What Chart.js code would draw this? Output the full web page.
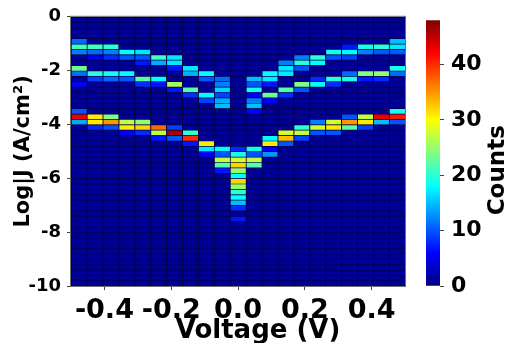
<!DOCTYPE html>
<html>
<head>
<meta charset="utf-8">
<script src="https://cdn.jsdelivr.net/npm/chart.js@4.4.1/dist/chart.umd.min.js"></script>
<style>
  html, body { margin: 0; padding: 0; background: #fff; }
  #wrap { position: relative; width: 510px; height: 343px; overflow: hidden; }
  #heat { position: absolute; left: 0; top: 0; }
  #bar { position: absolute; left: 415px; top: 0; }
</style>
</head>
<body>
<div id="wrap">
  <canvas id="heat" width="420" height="343"></canvas>
  <canvas id="bar" width="95" height="343"></canvas>
</div>
<script>
// histogram bins: 21 voltage columns over -0.5..0.5 V, 50 rows of 0.2 decade
const voltageBins = [-0.4762, -0.4286, -0.3810, -0.3333, -0.2857, -0.2381, -0.1905, -0.1429, -0.0952, -0.0476, 0,
                     0.0476, 0.0952, 0.1429, 0.1905, 0.2381, 0.2857, 0.3333, 0.3810, 0.4286, 0.4762];
const logJBins = [-9.9, -9.7, -9.5, -9.3, -9.1, -8.9, -8.7, -8.5, -8.3, -8.1, -7.9, -7.7, -7.5, -7.3, -7.1,
                  -6.9, -6.7, -6.5, -6.3, -6.1, -5.9, -5.7, -5.5, -5.3, -5.1, -4.9, -4.7, -4.5, -4.3, -4.1,
                  -3.9, -3.7, -3.5, -3.3, -3.1, -2.9, -2.7, -2.5, -2.3, -2.1, -1.9, -1.7, -1.5, -1.3, -1.1,
                  -0.9, -0.7, -0.5, -0.3, -0.1];
const rowHalf = 0.1;
const baseCount = 1;
const countMax = 48;
const voltageTicks = [-0.4, -0.2, 0, 0.2, 0.4];
const logJTicks = [-10, -8, -6, -4, -2, 0];
const countTicks = [0, 10, 20, 30, 40];

// [voltage, log|J| row, counts] for every bin above the floor
const peakCells = [
  [-0.4762, -0.9, 11], [-0.4762, -1.1, 21], [-0.4762, -1.3, 12], [-0.4762, -1.9, 23], [-0.4762, -2.1, 11],
  [-0.4762, -2.5, 6], [-0.4762, -3.5, 10], [-0.4762, -3.7, 43], [-0.4762, -3.9, 14],
  [-0.4286, -1.1, 21], [-0.4286, -1.3, 11], [-0.4286, -1.5, 5], [-0.4286, -2.1, 20], [-0.4286, -2.3, 9],
  [-0.4286, -3.7, 31], [-0.4286, -3.9, 31], [-0.4286, -4.1, 8],
  [-0.3810, -1.1, 20], [-0.3810, -1.3, 12], [-0.3810, -1.5, 8], [-0.3810, -2.1, 19], [-0.3810, -2.3, 11],
  [-0.3810, -3.7, 24], [-0.3810, -3.9, 35], [-0.3810, -4.1, 10],
  [-0.3333, -1.3, 18], [-0.3333, -1.5, 10], [-0.3333, -2.1, 18], [-0.3333, -2.3, 10], [-0.3333, -3.9, 27],
  [-0.3333, -4.1, 31], [-0.3333, -4.3, 6],
  [-0.2857, -1.3, 17], [-0.2857, -1.5, 10], [-0.2857, -1.7, 7], [-0.2857, -2.3, 22], [-0.2857, -2.5, 8],
  [-0.2857, -3.9, 25], [-0.2857, -4.1, 32], [-0.2857, -4.3, 8],
  [-0.2381, -1.5, 21], [-0.2381, -1.7, 14], [-0.2381, -2.3, 18], [-0.2381, -2.5, 7], [-0.2381, -4.1, 37],
  [-0.2381, -4.3, 27], [-0.2381, -4.5, 7],
  [-0.1905, -1.5, 17], [-0.1905, -1.7, 17], [-0.1905, -1.9, 7], [-0.1905, -2.5, 26], [-0.1905, -2.7, 7],
  [-0.1905, -4.1, 9], [-0.1905, -4.3, 46], [-0.1905, -4.5, 10],
  [-0.1429, -1.9, 17], [-0.1429, -2.1, 14], [-0.1429, -2.7, 22], [-0.1429, -2.9, 8], [-0.1429, -4.3, 20],
  [-0.1429, -4.5, 40], [-0.1429, -4.7, 7],
  [-0.0952, -2.1, 18], [-0.0952, -2.3, 10], [-0.0952, -2.9, 18], [-0.0952, -3.1, 9], [-0.0952, -4.7, 31],
  [-0.0952, -4.9, 17], [-0.0952, -5.1, 6],
  [-0.0476, -2.3, 11], [-0.0476, -2.5, 12], [-0.0476, -2.7, 16], [-0.0476, -2.9, 9], [-0.0476, -3.1, 14],
  [-0.0476, -3.3, 15], [-0.0476, -4.9, 18], [-0.0476, -5.1, 10], [-0.0476, -5.3, 27], [-0.0476, -5.5, 22],
  [-0.0476, -5.7, 7],
  [0, -4.9, 8], [0, -5.1, 19], [0, -5.3, 28], [0, -5.5, 32], [0, -5.7, 25], [0, -5.9, 18], [0, -6.1, 32],
  [0, -6.3, 25], [0, -6.5, 20], [0, -6.7, 18], [0, -6.9, 15], [0, -7.1, 8], [0, -7.5, 7],
  [0.0476, -2.3, 15], [0.0476, -2.5, 10], [0.0476, -2.7, 19], [0.0476, -2.9, 6], [0.0476, -3.1, 12],
  [0.0476, -3.3, 15], [0.0476, -3.5, 6], [0.0476, -4.9, 19], [0.0476, -5.1, 10], [0.0476, -5.3, 27],
  [0.0476, -5.5, 22],
  [0.0952, -2.1, 18], [0.0952, -2.3, 17], [0.0952, -2.5, 7], [0.0952, -2.9, 23], [0.0952, -3.1, 6],
  [0.0952, -4.5, 18], [0.0952, -4.7, 31], [0.0952, -4.9, 6], [0.0952, -5.1, 13],
  [0.1429, -1.7, 12], [0.1429, -1.9, 17], [0.1429, -2.1, 17], [0.1429, -2.7, 22], [0.1429, -2.9, 8],
  [0.1429, -4.3, 28], [0.1429, -4.5, 33], [0.1429, -4.7, 10],
  [0.1905, -1.5, 12], [0.1905, -1.7, 20], [0.1905, -1.9, 10], [0.1905, -2.5, 24], [0.1905, -2.7, 10],
  [0.1905, -4.1, 20], [0.1905, -4.3, 27], [0.1905, -4.5, 9],
  [0.2381, -1.5, 20], [0.2381, -1.7, 18], [0.2381, -2.3, 8], [0.2381, -2.5, 18], [0.2381, -3.9, 12],
  [0.2381, -4.1, 28], [0.2381, -4.3, 10],
  [0.2857, -1.3, 19], [0.2857, -1.5, 10], [0.2857, -2.3, 20], [0.2857, -2.5, 8], [0.2857, -3.9, 28],
  [0.2857, -4.1, 31], [0.2857, -4.3, 10],
  [0.3333, -1.1, 7], [0.3333, -1.3, 18], [0.3333, -1.5, 9], [0.3333, -2.1, 11], [0.3333, -2.3, 19],
  [0.3333, -3.7, 10], [0.3333, -3.9, 35], [0.3333, -4.1, 22],
  [0.3810, -1.1, 19], [0.3810, -1.3, 12], [0.3810, -2.1, 24], [0.3810, -2.3, 7], [0.3810, -3.7, 27],
  [0.3810, -3.9, 31], [0.3810, -4.1, 9],
  [0.4286, -1.1, 20], [0.4286, -1.3, 10], [0.4286, -2.1, 25], [0.4286, -2.3, 8], [0.4286, -3.7, 43],
  [0.4286, -3.9, 15],
  [0.4762, -0.9, 15], [0.4762, -1.1, 17], [0.4762, -1.3, 10], [0.4762, -1.9, 19], [0.4762, -2.1, 11],
  [0.4762, -3.5, 19], [0.4762, -3.7, 41], [0.4762, -3.9, 10]
];

Chart.defaults.font.family = "'DejaVu Sans', sans-serif";
Chart.defaults.font.weight = 'bold';
Chart.defaults.color = '#000';

// MATLAB-style jet colormap, t in 0..1
function jet(t) {
  const c = x => Math.round(255 * Math.min(1, Math.max(0, x)));
  return 'rgb(' + c(1.5 - Math.abs(4 * t - 3)) + ',' + c(1.5 - Math.abs(4 * t - 2)) + ',' + c(1.5 - Math.abs(4 * t - 1)) + ')';
}

const key = (v, j) => v.toFixed(4) + '|' + j.toFixed(1);
const counts = new Map(peakCells.map(p => [key(p[0], p[1]), p[2]]));

const cells = [];
const cellColors = [];
voltageBins.forEach(v => {
    logJBins.forEach(j => {
        const n = counts.has(key(v, j)) ? counts.get(key(v, j)) : baseCount;
        cells.push({ x: v, y: [j - rowHalf, j + rowHalf] });
        cellColors.push(jet(n / countMax));
    });
});

const gridColor = '#000046';
const fixedTicks = list => s => { s.ticks = list.map(v => ({ value: v })); };

const plotFrame = {
    id: 'plotFrame',
    beforeDatasetsDraw(chart) {
        const a = chart.chartArea;
        chart.ctx.save();
        chart.ctx.fillStyle = gridColor;
        chart.ctx.fillRect(a.left, a.top, a.right - a.left, a.bottom - a.top);
        chart.ctx.restore();
    },
    afterDatasetsDraw(chart) {
        const a = chart.chartArea;
        const ctx = chart.ctx;
        ctx.save();
        ctx.strokeStyle = '#6e6e6e';
        ctx.lineWidth = 1;
        ctx.strokeRect(a.left - 0.5, a.top - 0.5, a.right - a.left + 1, a.bottom - a.top + 1);
        ctx.restore();
    },
    afterDraw(chart) {
        // x axis title sits a little right of the plot centre
        const a = chart.chartArea;
        const ctx = chart.ctx;
        ctx.save();
        ctx.font = "bold 26px 'DejaVu Sans', sans-serif";
        ctx.fillStyle = '#000';
        ctx.textAlign = 'center';
        ctx.textBaseline = 'alphabetic';
        ctx.fillText('Voltage (V)', (a.left + a.right) / 2 + 20, a.bottom + 52);
        ctx.restore();
    }
};

new Chart(document.getElementById('heat'), {
    type: 'bar',
    data: {
        datasets: [{
            data: cells,
            backgroundColor: cellColors,
            borderColor: gridColor,
            borderWidth: { left: 1, top: 1, right: 0, bottom: 0 },
            borderSkipped: false,
            categoryPercentage: 1,
            barPercentage: 1
        }]
    },
    options: {
        responsive: false,
        animation: false,
        layout: { padding: { top: 15, right: 15, left: 0, bottom: 0 } },
        plugins: { legend: { display: false }, tooltip: { enabled: false } },
        scales: {
            x: {
                type: 'linear',
                min: -0.5,
                max: 0.5,
                offset: false,
                grid: { offset: false, drawOnChartArea: false, tickLength: 4, color: '#444' },
                border: { display: false },
                afterBuildTicks: fixedTicks(voltageTicks),
                ticks: {
                    padding: 5,
                    maxRotation: 0,
                    autoSkip: false,
                    font: { size: 27 },
                    callback: v => Math.abs(v) < 1e-9 ? '0.0' : v.toFixed(1)
                },
                afterFit: s => { s.height = 57; }
            },
            y: {
                min: -10,
                max: 0,
                grid: { drawOnChartArea: false, tickLength: 4, color: '#444' },
                border: { display: false },
                afterBuildTicks: fixedTicks(logJTicks),
                ticks: { padding: 6, font: { size: 18 } },
                title: { display: true, text: 'Log|J (A/cm²)', font: { size: 21 }, padding: { top: 11, bottom: 0 } },
                afterFit: s => { s.width = 71; }
            }
        }
    },
    plugins: [plotFrame]
});

// colour bar
const barTitle = {
    id: 'barTitle',
    afterDraw(chart) {
        const ctx = chart.ctx;
        const s = chart.scales.y;
        ctx.save();
        ctx.translate(s.right - 12, chart.chartArea.top + 150);
        ctx.rotate(-Math.PI / 2);
        ctx.font = "bold 23px 'DejaVu Sans', sans-serif";
        ctx.fillStyle = '#000';
        ctx.textAlign = 'center';
        ctx.textBaseline = 'middle';
        ctx.fillText('Counts', 0, 0);
        ctx.restore();
    }
};

new Chart(document.getElementById('bar'), {
    type: 'bar',
    data: {
        labels: ['Counts'],
        datasets: [{
            data: [[countTicks[0], countMax]],
            backgroundColor: c => {
                const a = c.chart.chartArea;
                if (!a) return null;
                const g = c.chart.ctx.createLinearGradient(0, a.bottom, 0, a.top);
                [0, 0.125, 0.375, 0.625, 0.875, 1].forEach(s => g.addColorStop(s, jet(s)));
                return g;
            },
            borderWidth: 0,
            categoryPercentage: 1,
            barPercentage: 1
        }]
    },
    options: {
        responsive: false,
        animation: false,
        layout: { padding: { left: 11, top: 15, bottom: 57, right: 0 } },
        plugins: { legend: { display: false }, tooltip: { enabled: false } },
        scales: {
            x: { display: false },
            y: {
                position: 'right',
                min: countTicks[0],
                max: countMax,
                grid: { drawOnChartArea: false, tickLength: 4, color: '#444' },
                border: { display: false },
                afterBuildTicks: fixedTicks(countTicks),
                ticks: { padding: 7, font: { size: 22 } },
                afterFit: s => { s.width = 70; }
            }
        }
    },
    plugins: [barTitle]
});
</script>
</body>
</html>
